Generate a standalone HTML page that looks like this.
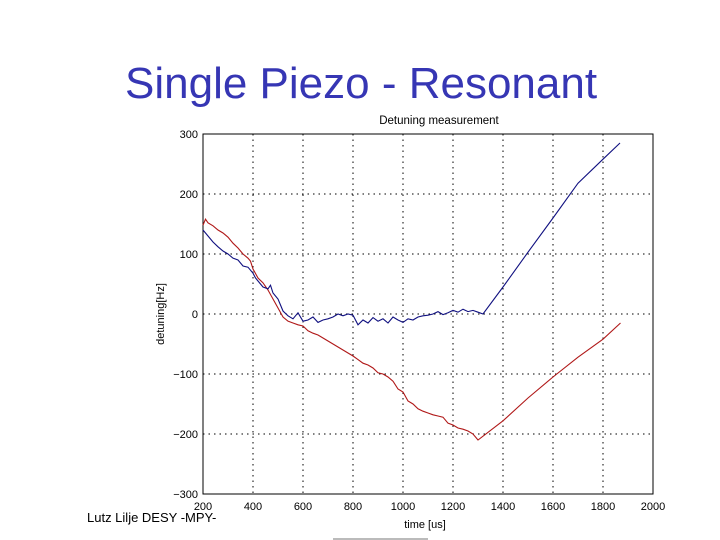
<!DOCTYPE html>
<html><head><meta charset="utf-8"><style>
body{margin:0;background:#fff;}
svg{display:block;font-family:"Liberation Sans",Arial,sans-serif;}
</style></head><body>
<svg width="720" height="540" viewBox="0 0 720 540">
<text x="125" y="98" font-size="44" fill="#3636b4">Single Piezo - Resonant</text>
<text x="439" y="124" font-size="11.5" text-anchor="middle" fill="#000">Detuning measurement</text>
<g id="grid"></g>
<rect x="203" y="134" width="450" height="360" fill="none" stroke="#000" stroke-width="1"/>
<g id="ticks" font-size="11" fill="#000"></g>
<g id="series"></g>
<text x="164" y="314" font-size="11" text-anchor="middle" transform="rotate(-90 164 314)">detuning[Hz]</text>
<text x="425" y="528" font-size="11" text-anchor="middle">time [us]</text>
<text x="87" y="522" font-size="13">Lutz Lilje   DESY -MPY-</text>
<line x1="333" y1="539" x2="428" y2="539" stroke="#777" stroke-width="1"/>
</svg>
<script>
const xTicks=[200,400,600,800,1000,1200,1400,1600,1800,2000];
const yTicks=[300,200,100,0,-100,-200,-300];
const yTickLabels=["300","200","100","0","\u2212100","\u2212200","\u2212300"];
const blueT=[200,210,220,240,260,280,300,320,340,360,380,400,410,420,440,460,470,480,500,510,520,540,560,580,600,620,640,660,680,700,720,740,760,780,800,820,840,860,880,900,920,940,960,980,1000,1020,1040,1060,1080,1100,1120,1140,1160,1180,1200,1220,1240,1260,1280,1300,1320,1400,1500,1600,1700,1800,1868];
const blueV=[140,135,130,120,112,105,100,93,90,80,78,68,60,55,45,42,48,35,25,15,5,-3,-8,2,-12,-10,-5,-14,-10,-8,-5,0,-3,0,-2,-18,-10,-15,-6,-12,-8,-15,-5,-10,-14,-8,-10,-5,-3,-2,0,4,-1,2,6,3,8,4,6,3,0,45,103,160,218,258,285];
const redT=[200,210,220,240,260,280,300,320,340,360,380,390,400,420,440,460,480,500,520,540,560,580,600,620,640,660,680,700,720,740,760,780,800,820,840,860,880,900,920,940,960,980,1000,1020,1040,1060,1080,1100,1120,1140,1160,1180,1200,1220,1240,1260,1280,1300,1400,1500,1600,1700,1800,1870];
const redV=[148,158,152,147,140,135,128,118,110,100,93,88,75,60,52,40,25,10,-5,-12,-15,-18,-20,-28,-32,-35,-40,-45,-50,-55,-60,-65,-70,-76,-82,-85,-90,-98,-100,-105,-112,-125,-130,-145,-150,-158,-162,-165,-168,-170,-172,-182,-185,-190,-192,-195,-200,-210,-178,-140,-105,-72,-42,-15];
const X=v=>203+(v-200)*450/1800;
const Y=v=>314-v*0.6;
const NS="http://www.w3.org/2000/svg";
const grid=document.getElementById('grid'),ticks=document.getElementById('ticks'),series=document.getElementById('series');
function mk(tag,attrs,parent){const e=document.createElementNS(NS,tag);for(const k in attrs)e.setAttribute(k,attrs[k]);parent.appendChild(e);return e;}
xTicks.forEach(t=>{
  if(t>200&&t<2000){const l=mk('line',{x1:X(t),x2:X(t),y1:134,y2:494,stroke:'#000','stroke-dasharray':'1.5,4'},grid);
  
  }
  const tx=mk('text',{x:X(t),y:510,'text-anchor':'middle'},ticks);tx.textContent=t;
  
  
});
yTicks.forEach((t,i)=>{
  if(t<300&&t>-300){const l=mk('line',{x1:203,x2:653,y1:Y(t),y2:Y(t),stroke:'#000','stroke-dasharray':'1.5,4'},grid);
  
  }
  const tx=mk('text',{x:198,y:Y(t)+4,'text-anchor':'end'},ticks);tx.textContent=yTickLabels[i];
  
  
});
function line(T,V,c,name){const p=mk('polyline',{points:T.map((t,i)=>X(t)+','+Y(V[i])).join(' '),fill:'none',stroke:c,'stroke-width':1.1},series);
  
  }
line(redT,redV,'#b01818','red-series');
line(blueT,blueV,'#101080','blue-series');
</script>
</body></html>
